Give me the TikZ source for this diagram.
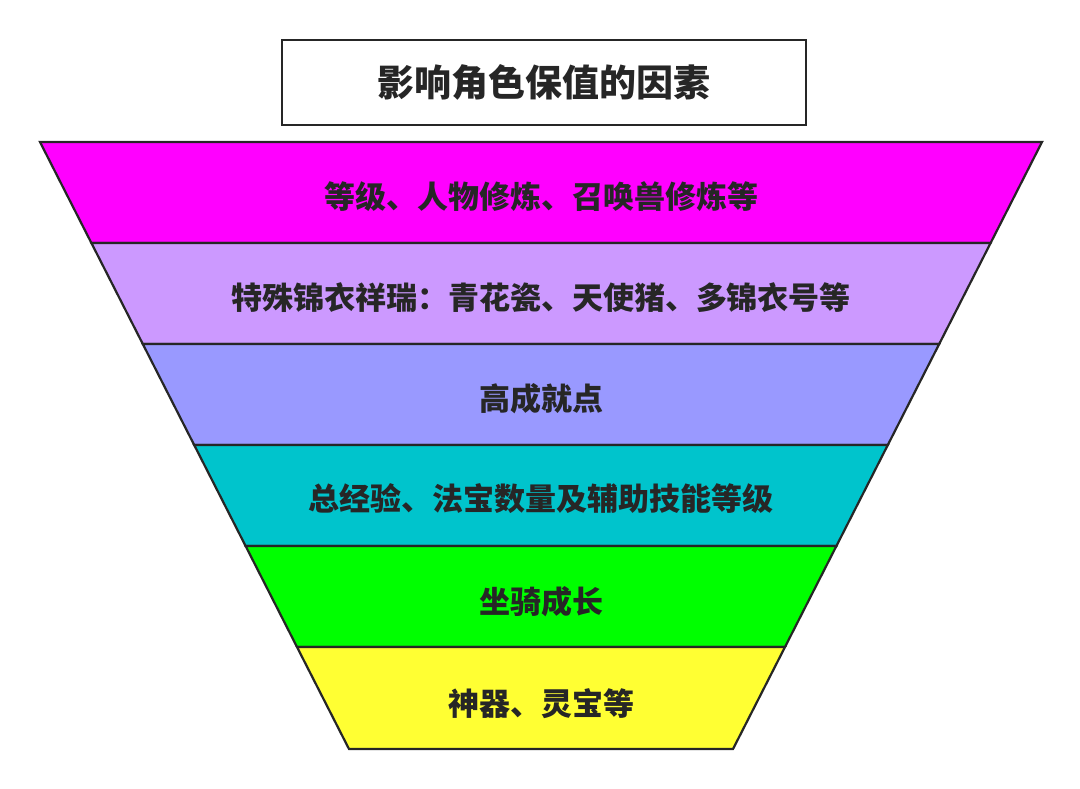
\documentclass[tikz,border=0pt]{standalone}
\usepackage{fontspec}
\setmainfont{Noto Sans CJK SC}
\definecolor{cMagenta}{HTML}{FF00FF}
\definecolor{cLilac}{HTML}{CC99FF}
\definecolor{cLavender}{HTML}{9999FF}
\definecolor{cTeal}{HTML}{00C4CC}
\definecolor{cGreen}{HTML}{00FF00}
\definecolor{cYellow}{HTML}{FFFF33}
\definecolor{cInk}{HTML}{262626}

\begin{document}
\begin{tikzpicture}[x=1pt,y=-1pt,
	band/.style={draw=cInk,line width=2.2pt,line join=miter},
	lbl/.style={font=\fontsize{31}{31}\selectfont\bfseries,text=cInk},
	titlebox/.style={draw=cInk,line width=2.2pt,minimum width=524pt,minimum height=85pt,font=\fontsize{37}{37}\selectfont\bfseries,text=cInk}]
	\useasboundingbox (0,0) rectangle (1080,788);
	\node[titlebox] (title) at (544,82.5) {影响角色保值的因素};
	% funnel bands, top to bottom
	\draw[band,fill=cMagenta] (40,142) -- (1042,142) -- (990.6,243) -- (91.4,243) -- cycle;
	\node[lbl] (lvA) at (541,197) {等级、人物修炼、召唤兽修炼等};
	\draw[band,fill=cLilac] (91.4,243) -- (990.6,243) -- (939.2,344) -- (142.8,344) -- cycle;
	\node[lbl] (lvB) at (541,298) {特殊锦衣祥瑞：青花瓷、天使猪、多锦衣号等};
	\draw[band,fill=cLavender] (142.8,344) -- (939.2,344) -- (887.8,445) -- (194.2,445) -- cycle;
	\node[lbl] (lvC) at (541,399) {高成就点};
	\draw[band,fill=cTeal] (194.2,445) -- (887.8,445) -- (836.4,546) -- (245.6,546) -- cycle;
	\node[lbl] (lvD) at (541,499) {总经验、法宝数量及辅助技能等级};
	\draw[band,fill=cGreen] (245.6,546) -- (836.4,546) -- (785,647) -- (297,647) -- cycle;
	\node[lbl] (lvE) at (541,602) {坐骑成长};
	\draw[band,fill=cYellow] (297,647) -- (785,647) -- (733,749) -- (349,749) -- cycle;
	\node[lbl] (lvF) at (541,704) {神器、灵宝等};
\end{tikzpicture}
\end{document}
